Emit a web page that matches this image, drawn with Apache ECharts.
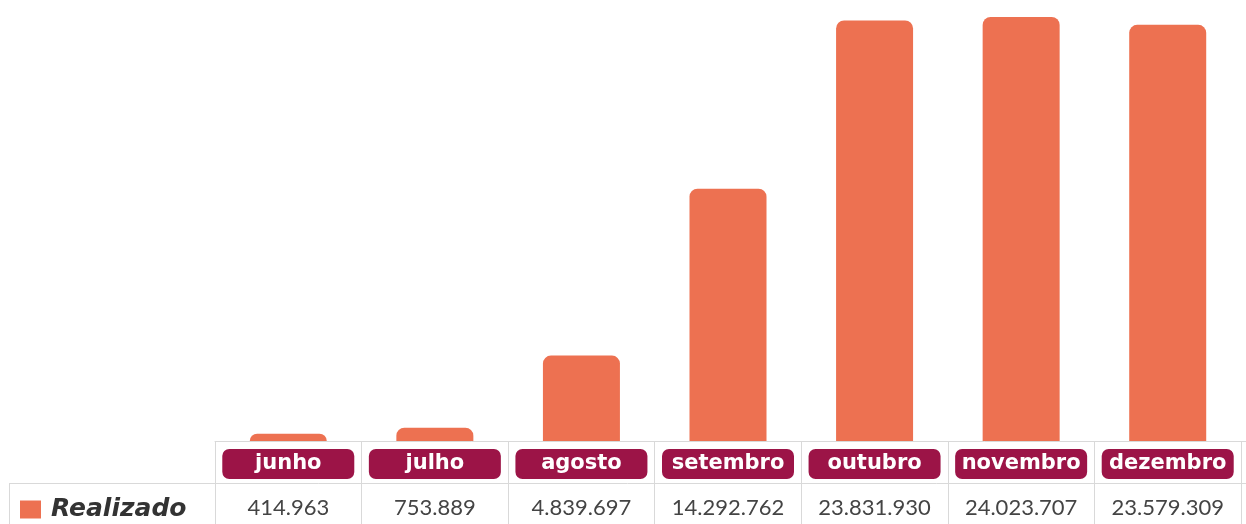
<!DOCTYPE html>
<html>
<head>
<meta charset="utf-8">
<script src="https://cdn.jsdelivr.net/npm/echarts@6/dist/echarts.min.js"></script>
<style>
  html, body { margin: 0; padding: 0; background: #fff; }
  #chart { width: 1246px; height: 524px; }
</style>
</head>
<body>
<div id="chart"></div>
<script>
  // dados
  var meses = ['junho', 'julho', 'agosto', 'setembro', 'outubro', 'novembro', 'dezembro'];
  var realizado = [414963, 753889, 4839697, 14292762, 23831930, 24023707, 23579309];
  var serieNome = 'Realizado';

  function fmt(v) {
    return String(v).replace(/\B(?=(\d{3})+(?!\d))/g, '.');
  }

  var gridCor = '#d9d9d9';
  var chart = echarts.init(document.getElementById('chart'));

  chart.setOption({
    animation: false,
    color: ['#ed7151'],
    legend: {
      data: [serieNome],
      left: 15,
      top: 492,
      icon: 'rect',
      itemWidth: 21,
      itemHeight: 18,
      textStyle: {
        fontFamily: 'DejaVu Sans',
        fontWeight: 'bold',
        fontStyle: 'italic',
        fontSize: 25,
        color: '#333',
        padding: [0, 0, 0, 5]
      }
    },
    grid: { left: 215, right: 5, top: 17, bottom: 83 },
    xAxis: [{
      type: 'category',
      data: meses,
      position: 'bottom',
      axisLine: { lineStyle: { color: gridCor, width: 1 } },
      axisTick: { show: true, interval: 0, length: 83, lineStyle: { color: gridCor } },
      axisLabel: {
        interval: 0,
        hideOverlap: false,
        margin: 8,
        color: '#fff',
        backgroundColor: '#9c1447',
        borderRadius: 7,
        fontFamily: 'DejaVu Sans',
        fontWeight: 'bold',
        fontSize: 21,
        width: 132,
        height: 30,
        lineHeight: 30,
        align: 'center'
      }
    }, {
      type: 'category',
      data: meses,
      position: 'bottom',
      axisLine: { show: false },
      axisTick: { show: false },
      axisLabel: {
        interval: 0,
        margin: 54,
        color: '#444',
        fontFamily: 'Lato',
        fontSize: 22,
        lineHeight: 26,
        formatter: function (v, i) { return fmt(realizado[i]); }
      }
    }],
    yAxis: {
      type: 'value',
      min: 0,
      max: 'dataMax',
      show: false,
      splitLine: { show: false }
    },
    series: [{
      name: serieNome,
      type: 'bar',
      data: realizado,
      barWidth: 77,
      itemStyle: { borderRadius: [8, 8, 0, 0] }
    }],
    // linhas da tabela
    graphic: [
      { type: 'line', shape: { x1: 9, y1: 483.5, x2: 1246, y2: 483.5 }, style: { stroke: gridCor, lineWidth: 1 } },
      { type: 'line', shape: { x1: 9.5, y1: 483, x2: 9.5, y2: 524 }, style: { stroke: gridCor, lineWidth: 1 } },
      { type: 'line', shape: { x1: 1240, y1: 441.5, x2: 1246, y2: 441.5 }, style: { stroke: gridCor, lineWidth: 1 } }
    ]
  });
</script>
</body>
</html>
